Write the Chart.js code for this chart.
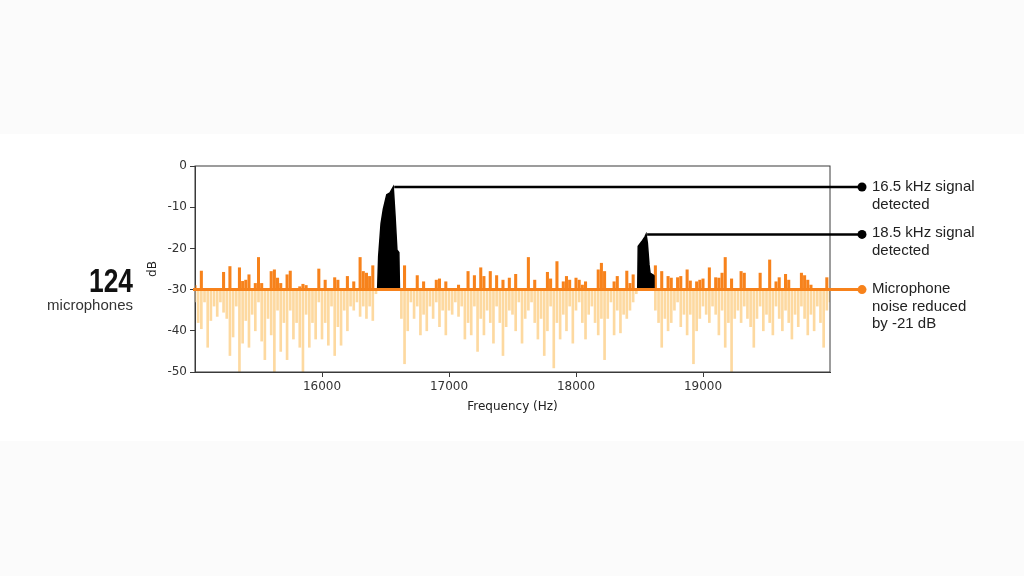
<!DOCTYPE html>
<html>
<head>
<meta charset="utf-8">
<script src="https://cdn.jsdelivr.net/npm/chart.js@4"></script>
<style>
  body { margin: 0; width: 1024px; height: 576px; background: #fbfbfb; position: relative; overflow: hidden;
         font-family: 'Liberation Sans', Arial, sans-serif; }
  .band { position: absolute; left: 0; top: 134px; width: 1024px; height: 307px; background: #fff; }
  #chart { position: absolute; left: 0; top: 0; }
  .note { position: absolute; left: 872px; color: #222; font-size: 15px; line-height: 17.5px; white-space: nowrap; }
  .count { position: absolute; left: 0; width: 133px; top: 264px; text-align: right; font-weight: bold; font-size: 33px;
           line-height: 33px; color: #111; transform: scaleX(0.8); transform-origin: right center; }
  .unit { position: absolute; left: 0; width: 133px; top: 296px; text-align: right; font-size: 15px; line-height: 18px; color: #333; }
</style>
</head>
<body>
<div class="band"></div>
<canvas id="chart" width="1024" height="576"></canvas>
<div class="count">124</div>
<div class="unit">microphones</div>
<div class="note" style="top:177px">16.5 kHz signal<br>detected</div>
<div class="note" style="top:223px">18.5 kHz signal<br>detected</div>
<div class="note" style="top:279px">Microphone<br>noise reduced<br>by -21 dB</div>
<script>
// frequency bins (Hz)
const freqHz = [
  15000,15025,15050,15075,15100,15125,15150,15175,15200,15225,
  15250,15275,15300,15325,15350,15375,15400,15425,15450,15475,
  15500,15525,15550,15575,15600,15625,15650,15675,15700,15725,
  15750,15775,15800,15825,15850,15875,15900,15925,15950,15975,
  16000,16025,16050,16075,16100,16125,16150,16175,16200,16225,
  16250,16275,16300,16325,16350,16375,16400,16425,16450,16475,
  16500,16525,16550,16575,16600,16625,16650,16675,16700,16725,
  16750,16775,16800,16825,16850,16875,16900,16925,16950,16975,
  17000,17025,17050,17075,17100,17125,17150,17175,17200,17225,
  17250,17275,17300,17325,17350,17375,17400,17425,17450,17475,
  17500,17525,17550,17575,17600,17625,17650,17675,17700,17725,
  17750,17775,17800,17825,17850,17875,17900,17925,17950,17975,
  18000,18025,18050,18075,18100,18125,18150,18175,18200,18225,
  18250,18275,18300,18325,18350,18375,18400,18425,18450,18475,
  18500,18525,18550,18575,18600,18625,18650,18675,18700,18725,
  18750,18775,18800,18825,18850,18875,18900,18925,18950,18975,
  19000,19025,19050,19075,19100,19125,19150,19175,19200,19225,
  19250,19275,19300,19325,19350,19375,19400,19425,19450,19475,
  19500,19525,19550,19575,19600,19625,19650,19675,19700,19725,
  19750,19775,19800,19825,19850,19875,19900,19925,19950,19975,
  20000
];

// microphone noise after reduction, clipped at -30 dB (orange)
const noiseDb = [
  -29,-30,-25.5,-30,-30,-30,-30,-30,-30,-25.8,
  -30,-24.4,-30,-30,-24.7,-28,-27.7,-26.4,-30,-28.5,
  -22.2,-28.5,-30,-30,-25.6,-25.2,-27.2,-28.5,-30,-26.4,
  -25.5,-30,-30,-29.3,-28.7,-29,-30,-30,-30,-25,
  -30,-27.7,-30,-30,-27.1,-27.7,-30,-30,-26.8,-30,
  -28.1,-30,-22.2,-25.6,-26,-26.8,-24.2,-30,-30,-30,
  -30,-30,-30,-30,-30,-30,-24.2,-30,-30,-30,
  -26.6,-30,-28.1,-30,-30,-30,-27.7,-27.4,-30,-28.1,
  -30,-30,-30,-28.9,-30,-30,-25.6,-30,-26.6,-30,
  -24.7,-26.8,-30,-25.6,-30,-26.6,-30,-27.7,-30,-27.2,
  -30,-26.3,-30,-30,-30,-22.2,-30,-27.7,-30,-30,
  -30,-25.8,-27.4,-30,-23.2,-30,-28.1,-26.8,-27.7,-30,
  -27.2,-27.7,-28.9,-28.1,-30,-30,-30,-25.2,-23.6,-25.6,
  -30,-30,-28.1,-26.8,-30,-30,-25.5,-28.5,-26.4,-30,
  -30,-30,-30,-30,-30,-24.2,-30,-25.6,-30,-26.8,
  -27.2,-30,-27.1,-26.8,-30,-25.2,-27.9,-30,-28.1,-27.7,
  -27.4,-30,-24.7,-30,-27.1,-27.2,-26,-22.2,-30,-27.4,
  -30,-30,-25.6,-26,-30,-30,-30,-30,-26,-30,
  -30,-22.8,-30,-28.1,-27.1,-30,-26.3,-27.7,-30,-30,
  -30,-26,-26.6,-27.7,-28.9,-30,-30,-30,-30,-27.1,
  -30
];

// reduced part of the noise, below -30 dB (light)
const reducedDb = [
  -33,-38,-39.5,-33,-44,-37.5,-34,-36.5,-33,-35.5,
  -37,-46,-41.5,-34,-50,-43,-37.5,-44,-36,-40,
  -33,-42.5,-47,-37,-41,-50,-35,-45,-38,-47,
  -35,-42,-38,-44,-50,-36,-44,-38,-42,-33,
  -42,-38,-43.5,-34,-46,-39,-43.5,-35,-40,-34,
  -35,-33,-36.5,-34,-37,-34,-37.5,-31,-30,-30,
  -30,-30,-30,-30,-30,-37,-48,-40,-33,-37,
  -34,-41,-36,-40,-34,-37,-33,-39,-35,-41,
  -35,-36,-33,-36.5,-34,-42,-38,-41,-34,-45,
  -37,-41,-35,-38,-43,-34,-38,-46,-39,-35,
  -36,-40,-33,-43,-37,-35,-33,-38,-42,-37,
  -46,-40,-34,-49,-38,-42,-36,-40,-34,-43,
  -35,-33,-38,-42,-36,-34,-38,-41,-37,-47,
  -37,-33,-41,-35,-40.5,-36,-37,-35,-33,-31,
  -30,-30,-30,-30,-30,-35,-38,-44,-37,-40,
  -38,-35,-33,-39,-36,-41,-36,-48,-40,-37,
  -34,-36,-38,-34,-36,-41,-35,-44,-38,-50,
  -37,-35,-38,-34,-37,-39,-44,-37,-34,-40,
  -36,-38,-41,-34,-37,-40,-35,-38,-42,-36,
  -39,-34,-37,-41,-36,-40,-34,-38,-44,-35,
  -33
];

// detected signals
const peak165Hz = [16438, 16446, 16465, 16483, 16510, 16535, 16561, 16575, 16590, 16605, 16610];
const peak165Db = [-30, -22, -14, -10.5, -7, -6.5, -5.1, -12, -20.4, -21, -30];
const peak185Hz = [18486, 18490, 18517, 18543, 18552, 18562, 18575, 18583, 18609, 18614];
const peak185Db = [-30, -19.5, -18.4, -17.2, -16.6, -18.7, -24, -26, -26.5, -30];

const xTicks = [16000, 17000, 18000, 19000];
const yTicks = [0, -10, -20, -30, -40, -50];
const floorDb = -30;

const ORANGE = '#f7821b';
const LIGHT = '#fdd9a0';
const markerX = 862;
const tickFont = { family: 'DejaVu Sans', size: 12 };

const toXY = (xs, ys) => xs.map((x, i) => ({ x: x, y: ys[i] }));
// floating bars hanging from / standing on the -30 dB floor
const toSpikes = (xs, ys) => xs.map((x, i) => ({ x: x, y: [floorDb, ys[i]] }));

const calloutPlugin = {
    id: 'callouts',
    afterDatasetsDraw(chart) {
        const { ctx, chartArea } = chart;
        const y = chart.scales.y;
        ctx.save();

        // box round the plot
        ctx.strokeStyle = '#3a3a3a';
        ctx.lineWidth = 1;
        ctx.strokeRect(chartArea.left, chartArea.top, chartArea.right - chartArea.left, chartArea.bottom - chartArea.top);

        // -30 dB floor, carried out to the label
        const fy = y.getPixelForValue(floorDb);
        ctx.strokeStyle = ORANGE;
        ctx.lineWidth = 3;
        ctx.beginPath();
        ctx.moveTo(chartArea.left - 2, fy);
        ctx.lineTo(markerX, fy);
        ctx.stroke();
        ctx.fillStyle = ORANGE;
        ctx.beginPath();
        ctx.arc(markerX, fy, 4.5, 0, Math.PI * 2);
        ctx.fill();

        // leader lines from the peak tops
        [0, 1].forEach(i => {
            const pts = chart.getDatasetMeta(i).data;
            const top = pts.reduce((a, b) => (b.y < a.y ? b : a));
            ctx.strokeStyle = '#000';
            ctx.lineWidth = 2.5;
            ctx.beginPath();
            ctx.moveTo(top.x + 1, top.y);
            ctx.lineTo(markerX, top.y);
            ctx.stroke();
            ctx.fillStyle = '#000';
            ctx.beginPath();
            ctx.arc(markerX, top.y, 4.5, 0, Math.PI * 2);
            ctx.fill();
        });
        ctx.restore();
    }
};

new Chart(document.getElementById('chart').getContext('2d'), {
    type: 'line',
    data: {
        datasets: [
            {
                label: '16.5 kHz',
                data: toXY(peak165Hz, peak165Db),
                borderColor: '#000',
                backgroundColor: '#000',
                borderWidth: 1.5,
                fill: { value: floorDb },
                pointRadius: 0,
                order: 0
            },
            {
                label: '18.5 kHz',
                data: toXY(peak185Hz, peak185Db),
                borderColor: '#000',
                backgroundColor: '#000',
                borderWidth: 1.5,
                fill: { value: floorDb },
                pointRadius: 0,
                order: 0
            },
            {
                type: 'bar',
                label: 'noise',
                data: toSpikes(freqHz, noiseDb),
                backgroundColor: ORANGE,
                borderWidth: 0,
                barThickness: 2.4,
                grouped: false,
                order: 1
            },
            {
                type: 'bar',
                label: 'reduced',
                data: toSpikes(freqHz, reducedDb),
                backgroundColor: LIGHT,
                borderWidth: 0,
                barThickness: 2,
                grouped: false,
                order: 2
            }
        ]
    },
    options: {
        responsive: false,
        animation: false,
        events: [],
        layout: { padding: { left: 146, right: 194, top: 166, bottom: 158 } },
        plugins: { legend: { display: false }, tooltip: { enabled: false } },
        scales: {
            x: {
                type: 'linear',
                min: 15000,
                max: 20000,
                offset: false,
                afterBuildTicks: s => { s.ticks = xTicks.map(v => ({ value: v })); },
                afterFit: s => { s.height = 46; },
                grid: { drawOnChartArea: false, drawTicks: true, tickLength: 5, color: '#3a3a3a', offset: false },
                border: { display: true, color: '#3a3a3a', width: 1 },
                ticks: { font: tickFont, color: '#333', padding: 3, maxRotation: 0, callback: v => String(v) },
                title: { display: true, text: 'Frequency (Hz)', font: tickFont, color: '#222', padding: { top: 4, bottom: 4 } }
            },
            y: {
                min: -50,
                max: 0,
                afterBuildTicks: s => { s.ticks = yTicks.map(v => ({ value: v })); },
                afterFit: s => { s.width = 49; },
                grid: { drawOnChartArea: false, drawTicks: true, tickLength: 5, color: '#3a3a3a' },
                border: { display: true, color: '#3a3a3a', width: 1 },
                ticks: { font: tickFont, color: '#333', padding: 3, callback: v => String(v) },
                title: { display: true, text: 'dB', font: tickFont, color: '#222', padding: 0 }
            }
        }
    },
    plugins: [calloutPlugin]
});
</script>
</body>
</html>
